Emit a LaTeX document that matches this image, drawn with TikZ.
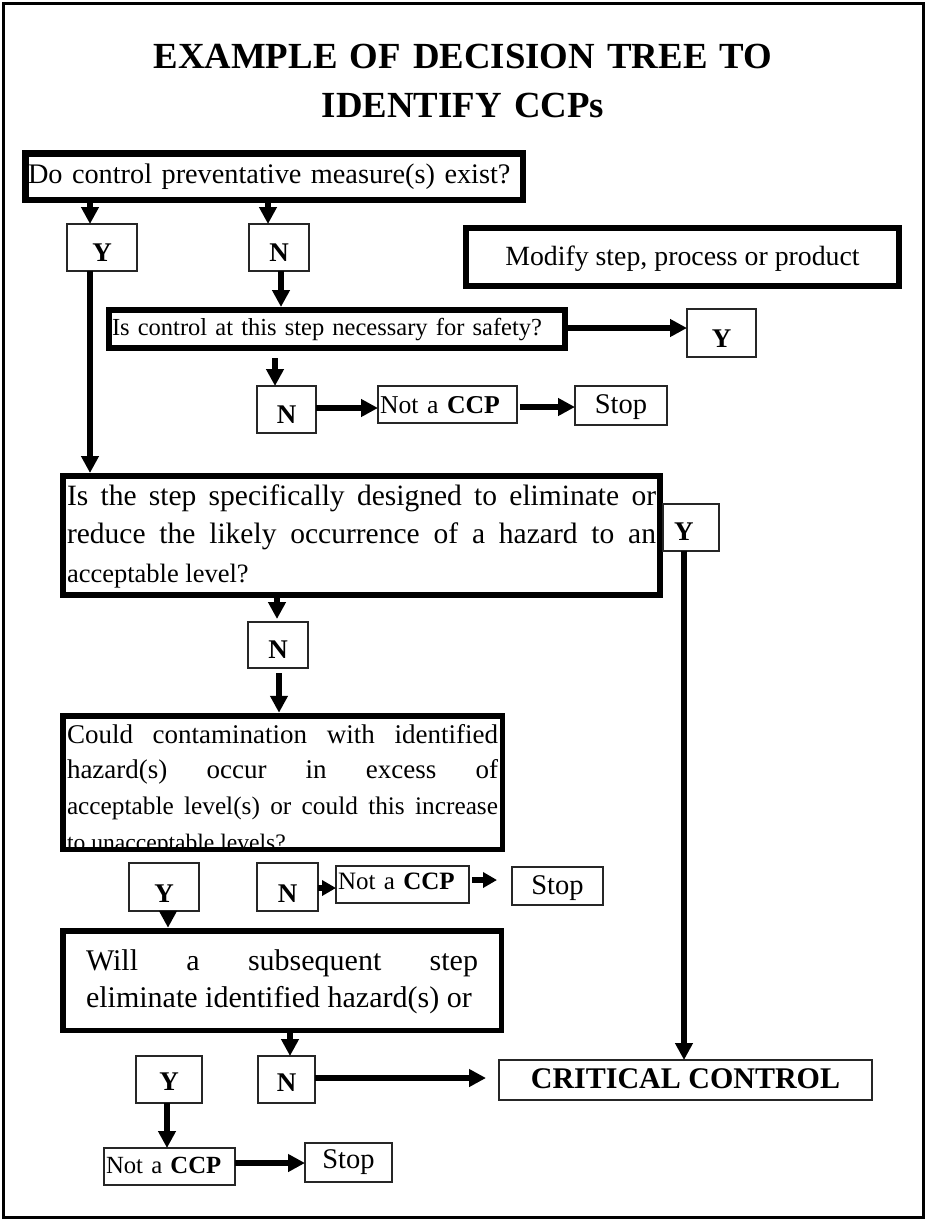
\documentclass[tikz,border=0pt]{standalone}
\usepackage{fontspec}
\setmainfont{Liberation Serif}
\usetikzlibrary{arrows.meta}
\newcommand{\fsz}[2]{\fontsize{#1pt}{#2pt}\selectfont}
\newcommand{\fz}[1]{\fontsize{#1pt}{30pt}\selectfont}
\newcommand{\jpar}{\tolerance=10000 \hbadness=10000 \hyphenpenalty=10000 \exhyphenpenalty=10000 }
\begin{document}
\begin{tikzpicture}[x=1pt,y=-1pt,
  every node/.style={inner sep=0pt, outer sep=0pt},
  thickbox/.style={draw=black, line width=6pt, rectangle},
  thinbox/.style={draw=black!85, line width=1.3pt, rectangle},
  yn/.style={thinbox, font=\fsz{27}{30}\bfseries},
  arr/.style={line width=5.5pt, -{Triangle[length=17pt,width=17pt]}},
  sarr/.style={line width=6pt, -{Triangle[length=14pt,width=15pt]}},
  ]
\useasboundingbox (0,0) rectangle (927,1221);
\draw[line width=3pt] (3,3) rectangle (923,1217);

% title
\node[text width=850pt, align=center, font=\fsz{36.8}{49}\bfseries, text height=0pt, text depth=0pt] (title) at (463,68)
  {\fsz{36.8}{49}\bfseries EXAMPLE OF DECISION TREE TO\\IDENTIFY CCPs};

% first question
\node[thickbox, line width=6.5pt, minimum width=497.5pt, minimum height=46.5pt, text width=492pt, align=left,
  font=\fsz{28.3}{34}, text height=13pt, text depth=0pt] (q1) at (274,176.75) {\jpar Do control preventative measure(s) exist?};
\node[yn, minimum width=70pt, minimum height=47pt, text height=28pt, text depth=0pt] (y1) at (102,247.5) {Y};
\node[yn, minimum width=60pt, minimum height=47pt, text height=28pt, text depth=0pt] (n1) at (279,247.5) {N};
\node[thickbox, minimum width=433pt, minimum height=58pt, font=\fsz{27.8}{32}, text height=16pt, text depth=0pt] (mod) at (682.5,257) {Modify step, process or product};

% second question
\node[thickbox, minimum width=456pt, minimum height=38pt, text width=450pt, align=left,
  font=\fsz{24.5}{30}, text height=12pt, text depth=0pt] (q2) at (337,329) {\jpar Is control at this step necessary for safety?};
\node[yn, minimum width=69pt, minimum height=48pt, text height=28pt, text depth=0pt] (y2) at (721.5,333) {Y};
\node[yn, minimum width=59pt, minimum height=47pt, text height=27pt, text depth=0pt] (n2) at (286.5,409.5) {N};
\node[thinbox, minimum width=139pt, minimum height=37pt, text width=135pt, align=left, font=\fsz{25.7}{30},
  text height=17pt, text depth=0pt] (ncc1) at (447.5,404.5) {\jpar Not a \textbf{CCP}};
\node[thinbox, minimum width=92pt, minimum height=39pt, font=\fsz{28.5}{32}, text height=16pt, text depth=0pt] (stop1) at (621,405.5) {Stop};

% third question
\node[thickbox, minimum width=597pt, minimum height=119pt, text width=589pt, align=justify,
  font=\fsz{29.5}{38.5}, text height=0pt, text depth=61pt] (q3) at (361.5,535.5)
  {\jpar Is the step specifically designed to eliminate or\linebreak reduce the likely occurrence of a hazard to an\linebreak {\fz{26.5}acceptable level?}};
\node[yn, minimum width=56pt, minimum height=47pt, text width=34pt, align=left, text height=25pt, text depth=0pt] (y3) at (691,527.5) {Y};
\node[yn, minimum width=60pt, minimum height=46pt, text height=26pt, text depth=0pt] (n3) at (278,645) {N};

% fourth question
\node[thickbox, line width=5.5pt, minimum width=439.5pt, minimum height=133.5pt, text width=431pt, align=justify,
  font=\fsz{27}{35.8}, text height=0pt, text depth=79pt] (q4) at (282.5,782.5)
  {\jpar Could contamination with identified\linebreak hazard(s) occur in excess of\linebreak {\fz{25.3}acceptable level(s) or could this increase}\linebreak {\fz{23.6}to unacceptable levels?}};
\fill[white] ([yshift=-2.75pt]q4.south west) rectangle ([yshift=-9pt]q4.south east);
\draw[line width=5.5pt] ([xshift=-2.75pt]q4.south west) -- ([xshift=2.75pt]q4.south east);
\node[yn, minimum width=70pt, minimum height=48pt, text height=30pt, text depth=0pt] (y4) at (164,887) {Y};
\node[yn, minimum width=61pt, minimum height=48pt, text height=30pt, text depth=0pt] (n4) at (287.5,887) {N};
\node[thinbox, minimum width=133pt, minimum height=37pt, text width=129pt, align=left, font=\fsz{25}{30},
  text height=9pt, text depth=0pt] (ncc2) at (402.5,884.5) {\jpar Not a \textbf{CCP}};
\node[thinbox, minimum width=91pt, minimum height=38pt, font=\fsz{28.5}{32}, text height=16pt, text depth=0pt] (stop2) at (557.5,886) {Stop};

% fifth question
\node[thickbox, line width=5.5pt, minimum width=438.5pt, minimum height=99.5pt, text width=392pt, align=justify,
  font=\fsz{30}{37}, text height=0pt, text depth=21pt] (q5) at (282,980.5)
  {\jpar Will a subsequent step\linebreak eliminate identified hazard(s) or};
\node[yn, minimum width=66pt, minimum height=47pt, text height=21pt, text depth=0pt] (y5) at (169,1079.5) {Y};
\node[yn, minimum width=57pt, minimum height=47pt, text height=24pt, text depth=0pt] (n5) at (286.5,1079.5) {N};
\node[thinbox, minimum width=373pt, minimum height=40pt, font=\fsz{30}{34}\bfseries, text height=16pt, text depth=0pt] (cc) at (685.5,1080) {CRITICAL CONTROL};
\node[thinbox, minimum width=131pt, minimum height=37pt, text width=127pt, align=left, font=\fsz{24.7}{30},
  text height=13pt, text depth=0pt] (ncc3) at (169.5,1166.5) {\jpar Not a \textbf{CCP}};
\node[thinbox, minimum width=87pt, minimum height=39pt, font=\fsz{28.5}{32}, text height=11pt, text depth=0pt] (stop3) at (348.5,1162.5) {Stop};

% connectors
\draw[arr] (90,0 |- q1.south) -- (90,0 |- y1.north);
\draw[arr] (268,0 |- q1.south) -- (268,0 |- n1.north);
\draw[arr, shorten >=3pt] (90,0 |- y1.south) -- (90,0 |- q3.north);
\draw[arr, shorten >=3pt] (281,0 |- n1.south) -- (281,0 |- q2.north);
\draw[arr] (q2.east |- 0,328) -- (y2.west |- 0,328);
\draw[arr, shorten <=10pt] (275,0 |- q2.south) -- (275,0 |- n2.north);
\draw[arr] (n2.east |- 0,408) -- (ncc1.west |- 0,408);
\draw[arr, shorten <=3pt] (ncc1.east |- 0,407) -- (stop1.west |- 0,407);
\draw[arr] (684,0 |- y3.south) -- (684,0 |- cc.north);
\draw[arr, shorten >=3pt] (277,0 |- q3.south) -- (277,0 |- n3.north);
\draw[arr, shorten <=5pt, shorten >=3pt] (279,0 |- n3.south) -- (279,0 |- q4.north);
\draw[sarr] (n4.east |- 0,888) -- (ncc2.west |- 0,888);
\draw[sarr, shorten <=3pt, shorten >=15pt] (ncc2.east |- 0,880) -- (stop2.west |- 0,880);
\draw[arr, shorten >=3pt] (168,0 |- y4.south) -- (168,0 |- q5.north);
\draw[arr] (290,0 |- q5.south) -- (290,0 |- n5.north);
\draw[arr, shorten >=13pt] (n5.east |- 0,1078) -- (cc.west |- 0,1078);
\draw[arr] (167,0 |- y5.south) -- (167,0 |- ncc3.north);
\draw[arr] (ncc3.east |- 0,1163) -- (stop3.west |- 0,1163);
\end{tikzpicture}
\end{document}
